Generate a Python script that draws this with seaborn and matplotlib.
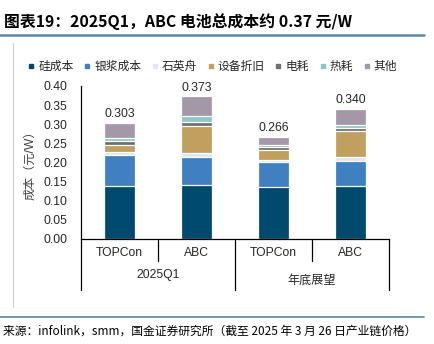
import matplotlib
matplotlib.use("Agg")
import matplotlib.pyplot as plt
import matplotlib.transforms as mtransforms
from matplotlib.lines import Line2D
import numpy as np
import pandas as pd
import seaborn as sns

# ---------------- data ----------------
groups = ["2025Q1", "年底展望"]
techs = ["TOPCon", "ABC"]
bar_keys = ["2025Q1-TOPCon", "2025Q1-ABC", "年底展望-TOPCon", "年底展望-ABC"]
bar_tick_labels = ["TOPCon", "ABC", "TOPCon", "ABC"]
totals = [0.303, 0.373, 0.266, 0.340]
total_labels = ["0.303", "0.373", "0.266", "0.340"]

components = ["硅成本", "银浆成本", "石英舟", "设备折旧", "电耗", "热耗", "其他"]
silicon = [0.137, 0.140, 0.135, 0.139]
silver = [0.082, 0.073, 0.066, 0.063]
quartz = [0.008, 0.011, 0.006, 0.012]
equipment = [0.019, 0.070, 0.025, 0.067]
electric = [0.009, 0.011, 0.008, 0.008]
thermal = [0.008, 0.016, 0.006, 0.010]
other = [0.040, 0.052, 0.020, 0.041]

colors = ["#004a6e", "#4080c0", "#dbe8f5", "#c19f5e", "#6f6f6f", "#8ec4c8", "#a497a8"]

title_text = "图表19：2025Q1，ABC 电池总成本约 0.37 元/W"
source_text = "来源：infolink，smm，国金证券研究所（截至 2025 年 3 月 26 日产业链价格）"
ylabel_text = "成本（元/W）"
yticks = [0.00, 0.05, 0.10, 0.15, 0.20, 0.25, 0.30, 0.35, 0.40]

# ---------------- style ----------------
sns.set_theme(style="white")
plt.rcParams["font.family"] = ["Liberation Sans", "Noto Sans CJK SC", "DejaVu Sans"]
plt.rcParams["axes.unicode_minus"] = False
txt_color = "#262626"

W, H = 434, 344
fig = plt.figure(figsize=(W / 100, H / 100), dpi=100)
fig.patch.set_facecolor("white")

def fy(py):
    return 1 - py / H

def fx(px):
    return px / W

ax = fig.add_axes([fx(81), fy(238.5), fx(389) - fx(81), fy(86) - fy(238.5)])

# ---------------- stacked bars (cumulative layering) ----------------
series = [silicon, silver, quartz, equipment, electric, thermal, other]
df = pd.DataFrame({"key": bar_keys})
cum = np.zeros(len(bar_keys))
cums = []
for s in series:
    cum = cum + np.array(s)
    cums.append(cum.copy())
for i in reversed(range(len(series))):
    df["v"] = cums[i]
    sns.barplot(data=df, x="key", y="v", order=bar_keys, color=colors[i],
                saturation=1, width=0.39, edgecolor="white", linewidth=0.9,
                ax=ax, errorbar=None)

ax.set_xlim(-0.5, 3.5)
ax.set_ylim(0, 0.40)
ax.set_yticks(yticks)
ax.set_yticklabels([f"{t:.2f}" for t in yticks], fontsize=8.7, color=txt_color)
ax.tick_params(axis="y", direction="in", length=3, width=0.8, color="black", pad=10)
ax.set_xticks([])
ax.set_xlabel("")
ax.set_ylabel(ylabel_text, fontsize=8.7, color="#404040", labelpad=5)
for sp in ["top", "right"]:
    ax.spines[sp].set_visible(False)
for sp in ["left", "bottom"]:
    ax.spines[sp].set_color("black")
    ax.spines[sp].set_linewidth(0.9)

# total labels
for i, (t, lab) in enumerate(zip(totals, total_labels)):
    ax.annotate(lab, (i, t), xytext=(0, 2), textcoords="offset points",
                ha="center", va="bottom", fontsize=8.8, color=txt_color)

# ---------------- multi-level category axis ----------------
trans = mtransforms.blended_transform_factory(ax.transData, fig.transFigure)
for xb in [-0.5, 1.5, 3.5]:
    fig.add_artist(Line2D([xb, xb], [fy(238.5), fy(290)], transform=trans,
                          color="black", lw=0.9))
for xb in [0.5, 2.5]:
    fig.add_artist(Line2D([xb, xb], [fy(238.5), fy(261)], transform=trans,
                          color="black", lw=0.9))
for i, lab in enumerate(bar_tick_labels):
    fig.text(i, fy(253), lab, transform=trans, ha="center", va="center",
             fontsize=8.7, color=txt_color)
fig.text(0.5, fy(275), groups[0], transform=trans, ha="center", va="center",
         fontsize=8.7, color=txt_color)
fig.text(2.5, fy(281), groups[1], transform=trans, ha="center", va="center",
         fontsize=8.7, color=txt_color)

# ---------------- legend ----------------
handles = [Line2D([], [], marker="s", linestyle="none", markersize=3.5,
                  markerfacecolor=c, markeredgecolor=c) for c in colors]
fig.legend(handles, components, loc="center left", bbox_to_anchor=(fx(23), fy(67)),
           ncol=7, frameon=False, fontsize=8.5, handlelength=0.6,
           handletextpad=0.3, columnspacing=0.85, borderaxespad=0,
           labelcolor=txt_color)

# ---------------- title, frame lines, source ----------------
fig.text(fx(4), fy(22), title_text, ha="left", va="center", fontsize=11.4,
         fontweight="bold", style="italic", color="black",
         family=["Noto Sans CJK SC", "DejaVu Sans"])
fig.add_artist(Line2D([0, fx(424)], [fy(35), fy(35)], color="#5a88a6", lw=1.8))
fig.add_artist(Line2D([fx(13), fx(13)], [fy(43), fy(307)], color="#d0d0d0", lw=0.8))
fig.add_artist(Line2D([0, fx(424)], [fy(317), fy(317)], color="#5a88a6", lw=1.2))
fig.text(fx(3), fy(331), source_text, ha="left", va="center", fontsize=8.5,
         color="black", family=["Noto Sans CJK SC", "DejaVu Sans"])

fig.savefig("out.png", dpi=100, facecolor="white")
